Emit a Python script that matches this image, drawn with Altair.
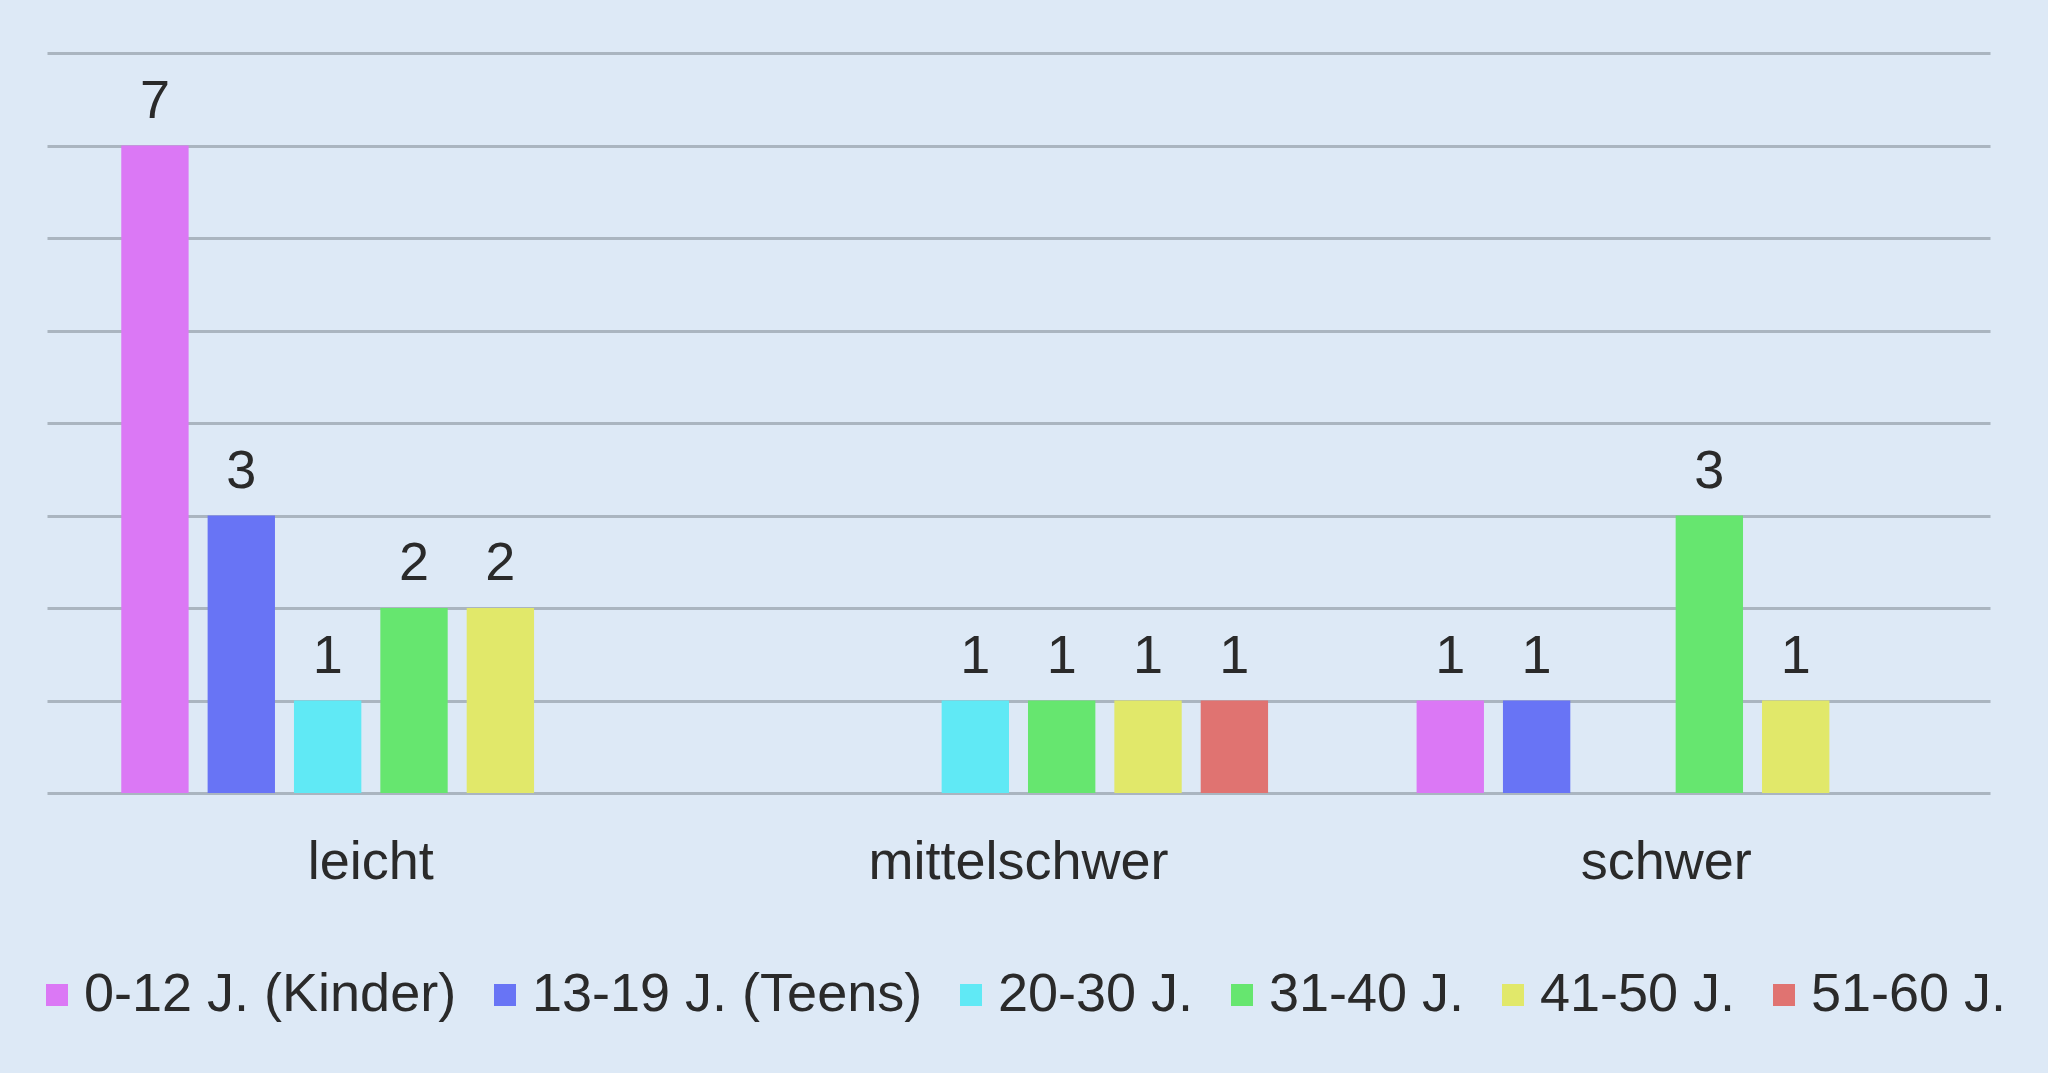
import altair as alt
import pandas as pd

categories = ["leicht", "mittelschwer", "schwer"]
series = ["0-12 J. (Kinder)", "13-19 J. (Teens)", "20-30 J.", "31-40 J.", "41-50 J.", "51-60 J."]
colors = ["#db78f5", "#6874f5", "#60e9f5", "#66e66f", "#e1e86a", "#e07371"]

v_kinder = [7, None, 1]
v_teens = [3, None, 1]
v_20_30 = [1, 1, None]
v_31_40 = [2, 1, 3]
v_41_50 = [2, 1, 1]
v_51_60 = [None, 1, None]

all_vals = [v_kinder, v_teens, v_20_30, v_31_40, v_41_50, v_51_60]
rows = []
for s, vals in zip(series, all_vals):
    for c, v in zip(categories, vals):
        if v is not None:
            rows.append({"Kategorie": c, "Gruppe": s, "Anzahl": v})
df = pd.DataFrame(rows)

FONT = "Liberation Sans"
TXT = "#2a2a2a"

x = alt.X("Kategorie:N", sort=categories,
          scale=alt.Scale(domain=categories, paddingInner=0.2, paddingOuter=0.1),
          axis=alt.Axis(title=None, domain=False, ticks=False, tickSize=0, labelAngle=0,
                        labelFontSize=54, labelFont=FONT, labelColor=TXT, labelLimit=1000,
                        labelPadding=85, labelBaseline="alphabetic", grid=False))
xo = alt.XOffset("Gruppe:N", sort=series,
                 scale=alt.Scale(domain=series, paddingInner=0.22, paddingOuter=0.11))
y = alt.Y("Anzahl:Q", scale=alt.Scale(domain=[0, 8], nice=False),
          axis=alt.Axis(title=None, labels=False, ticks=False, domain=False,
                        values=[0, 1, 2, 3, 4, 5, 6, 7, 8], grid=True,
                        gridColor="#aab5c0", gridWidth=3))

bars = alt.Chart(df).mark_bar().encode(
    x=x, xOffset=xo, y=y,
    color=alt.Color("Gruppe:N", sort=series,
                    scale=alt.Scale(domain=series, range=colors),
                    legend=alt.Legend(title=None, orient="none", direction="horizontal",
                                      columns=6, legendX=-17, legendY=915,
                                      symbolType="square", symbolSize=484,
                                      symbolStrokeWidth=0, labelFontSize=54,
                                      labelFont=FONT, labelColor=TXT, labelLimit=1000,
                                      labelOffset=0, columnPadding=21)),
)

labels = alt.Chart(df).mark_text(baseline="alphabetic", dy=-28, fontSize=54,
                                 font=FONT, color=TXT).encode(
    x=x, xOffset=xo, y=y, text=alt.Text("Anzahl:Q")
)

chart = (bars + labels).properties(
    width=1943, height=740,
    background="#dde9f6",
    padding={"left": 47, "top": 53, "right": 58, "bottom": 280},
    autosize=alt.AutoSizeParams(type="none"),
).configure_view(stroke=None)

chart.save("out.html", embed_options={"renderer": "svg", "actions": False})
